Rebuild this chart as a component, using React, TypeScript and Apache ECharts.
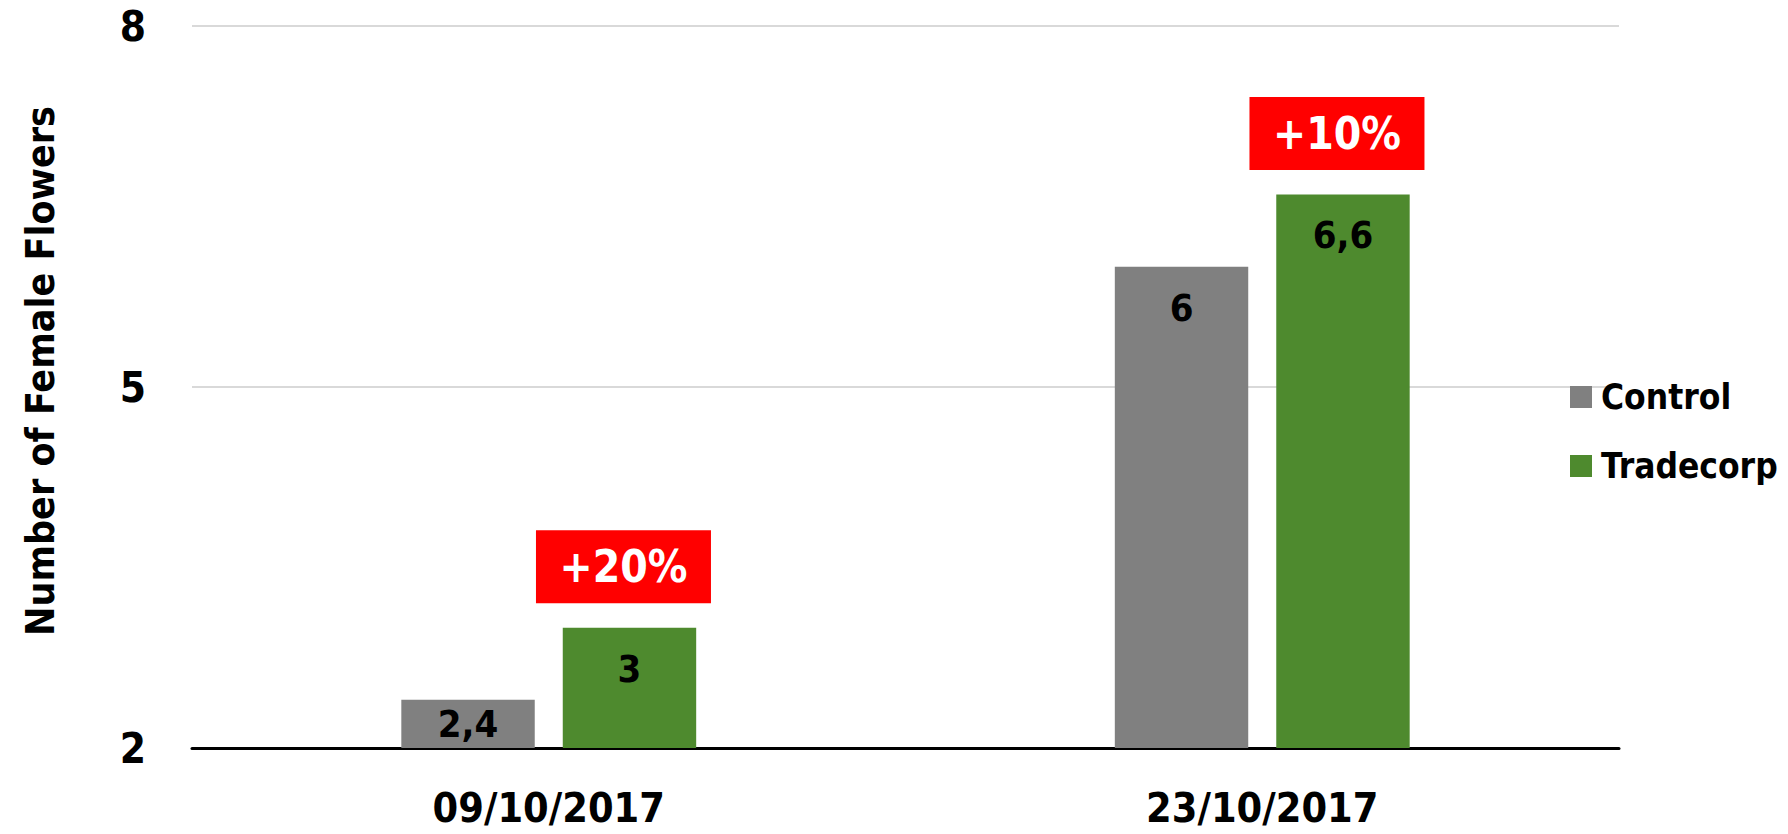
import React, { useEffect, useRef } from "react";
import * as echarts from "echarts";

const categories = ["09/10/2017", "23/10/2017"];
const controlValues = [2.4, 6];
const tradecorpValues = [3, 6.6];
const increaseLabels = ["+20%", "+10%"];
const seriesNames = ["Control", "Tradecorp"];
const yTicks = { min: 2, max: 8, interval: 3 };

const FONT = "'DejaVu Sans Condensed', 'Liberation Sans Narrow', 'Open Sans', sans-serif";

const fmt = (v: number) => String(v).replace(".", ",");

export default function App() {
  const ref = useRef<HTMLDivElement>(null);
  useEffect(() => {
    if (!ref.current) return;
    const chart = echarts.init(ref.current, undefined, { renderer: "svg" });
    const unit = (748 - 26) / (yTicks.max - yTicks.min);
    const barLabel = (v: number) => {
      const h = (v - yTicks.min) * unit;
      return h < 90
        ? { position: "inside" as const }
        : { position: "insideTop" as const, distance: 22 };
    };
    const mkData = (arr: number[]) =>
      arr.map((v) => ({ value: v, label: barLabel(v) }));
    chart.setOption({
      animation: false,
      textStyle: { fontFamily: FONT },
      grid: { left: 192, right: 169, top: 26, bottom: 86, containLabel: false },
      legend: {
        orient: "vertical",
        left: 1565,
        top: 368,
        itemWidth: 22,
        itemHeight: 22,
        itemGap: 21,
        icon: "rect",
        textStyle: { fontSize: 35, fontWeight: "bold", color: "#000", fontFamily: FONT, lineHeight: 48, padding: [0, 0, 0, 4] },
        data: seriesNames,
      },
      xAxis: {
        type: "category",
        data: categories,
        axisTick: { show: false },
        axisLine: { lineStyle: { color: "#000", width: 3 } },
        axisLabel: { fontSize: 41, lineHeight: 41, fontWeight: "bold", color: "#000", margin: 39, fontFamily: FONT },
      },
      yAxis: {
        type: "value",
        min: yTicks.min,
        max: yTicks.max,
        interval: yTicks.interval,
        name: "Number of Female Flowers",
        nameLocation: "middle",
        nameGap: 132,
        nameRotate: 90,
        nameTextStyle: { fontSize: 39, fontWeight: "bold", color: "#000", fontFamily: FONT, padding: [0, 0, 0, 32] },
        axisLine: { show: false },
        axisTick: { show: false },
        axisLabel: { fontSize: 42, fontWeight: "bold", color: "#000", margin: 46, fontFamily: FONT },
        splitLine: { lineStyle: { color: "#D9D9D9", width: 2 } },
      },
      series: [
        {
          name: seriesNames[0],
          type: "bar",
          data: mkData(controlValues),
          barWidth: "18.7%",
          barGap: "21%",
          itemStyle: { color: "#808080" },
          label: {
            show: true,
            fontSize: 38,
            fontWeight: "bold",
            color: "#000",
            fontFamily: FONT,
            formatter: (p: any) => fmt(p.value),
          },
        },
        {
          name: seriesNames[1],
          type: "bar",
          data: mkData(tradecorpValues),
          barWidth: "18.7%",
          barGap: "21%",
          itemStyle: { color: "#4E8A2E" },
          label: {
            show: true,
            fontSize: 38,
            fontWeight: "bold",
            color: "#000",
            fontFamily: FONT,
            formatter: (p: any) => fmt(p.value),
          },
          markPoint: {
            symbol: "rect",
            symbolSize: [175, 73],
            symbolOffset: [-6, -61],
            itemStyle: { color: "#FF0000" },
            label: {
              show: true,
              position: "inside",
              color: "#fff",
              fontSize: 44,
              fontWeight: "bold",
              fontFamily: FONT,
              formatter: (p: any) => p.name,
            },
            data: increaseLabels.map((t, i) => ({
              name: t,
              coord: [i, tradecorpValues[i]],
            })),
          },
        },
      ],
    });
    return () => chart.dispose();
  }, []);
  return (
    <div
      ref={ref}
      style={{ position: "fixed", left: 0, top: 0, width: 1788, height: 834, background: "#fff" }}
    />
  );
}
